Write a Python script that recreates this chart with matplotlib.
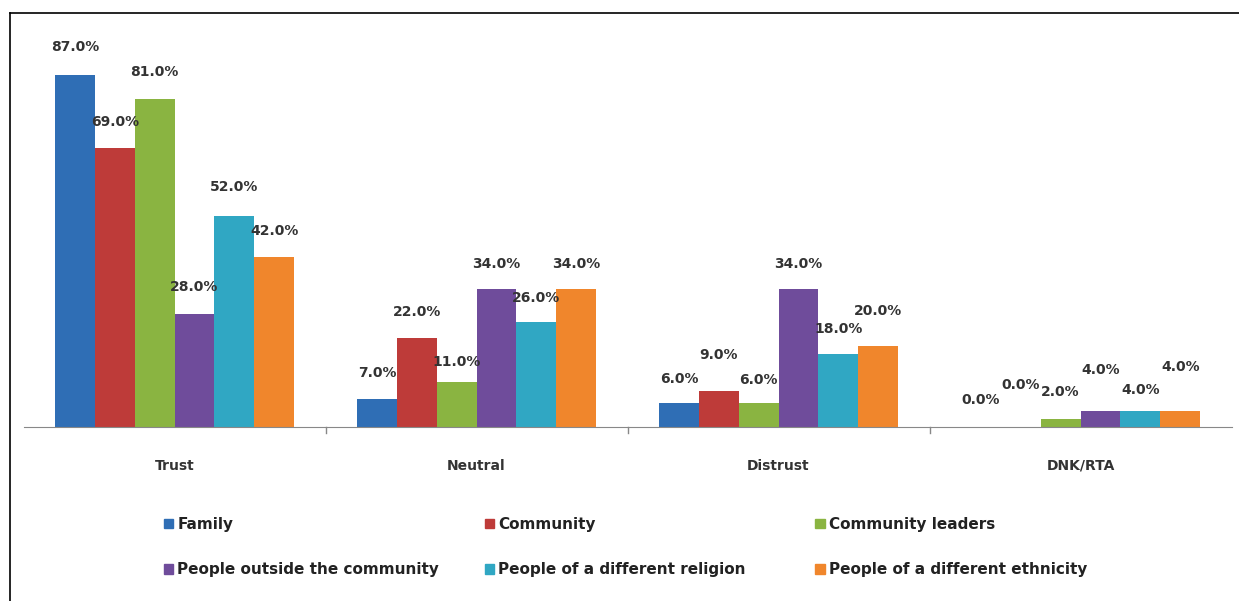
import matplotlib.pyplot as plt
import matplotlib.patches as mpatches
import numpy as np

categories = ['Trust', 'Neutral', 'Distrust', 'DNK/RTA']
series = ['Family', 'Community', 'Community leaders',
          'People outside the community', 'People of a different religion',
          'People of a different ethnicity']
values = [
    [87, 7, 6, 0],
    [69, 22, 9, 0],
    [81, 11, 6, 2],
    [28, 34, 34, 4],
    [52, 26, 18, 4],
    [42, 34, 20, 4],
]
colors = ['#2F6EB5', '#BE3B39', '#8AB441', '#6F4C9B', '#30A7C3', '#F0862C']

# label distance above bar top in pixels (Excel placed some higher to dodge)
label_gap = [
    [28, 26, 24, 27],
    [26, 26, 36, 42],
    [27, 20, 23, 27],
    [27, 25, 25, 41],
    [29, 24, 25, 21],
    [26, 25, 35, 44],
]

plt.rcParams['font.family'] = ['DejaVu Sans']

fig = plt.figure(figsize=(12.39, 6.01), dpi=100)
ax = fig.add_axes([0.019, 0.2895, 0.975, 0.674])

x = np.arange(len(categories))
w = 0.132
for i, (name, vals) in enumerate(zip(series, values)):
    pos = x + (i - 2.5) * w
    bars = ax.bar(pos, vals, w, color=colors[i], label=name, edgecolor='none')
    for j, (b, v) in enumerate(zip(bars, vals)):
        ax.annotate('%.1f%%' % v, (b.get_x() + b.get_width() / 2, v),
                    xytext=(0, label_gap[i][j] * 0.72), textcoords='offset points',
                    ha='center', va='center', fontsize=10, fontweight='bold',
                    color='#333333')

ax.set_xlim(-0.5, len(categories) - 0.5)
ax.set_ylim(0, 100)
ax.set_yticks([])
for s in ['top', 'right', 'left']:
    ax.spines[s].set_visible(False)
ax.spines['bottom'].set_color('#888888')
ax.set_xticks(x)
ax.set_xticklabels(categories, fontsize=10, fontweight='bold', color='#333333')
ax.tick_params(axis='x', length=0, pad=23)
for b in np.arange(0.5, len(categories) - 0.5, 1.0):
    ax.plot([b, b], [0, -1.5], color='#888888', lw=1, clip_on=False)

# legend in three columns, two rows each
handles = [mpatches.Patch(color=c) for c in colors]
col_x = [0.121, 0.380, 0.647]
for k in range(3):
    idx = [k, k + 3]
    fig.legend([handles[j] for j in idx], [series[j] for j in idx],
               loc='upper left', bbox_to_anchor=(col_x[k], 0.163),
               frameon=False, handlelength=0.6, handleheight=0.6,
               handletextpad=0.3, labelspacing=2.0,
               prop={'size': 11, 'weight': 'bold'}, labelcolor='#222222')

fig.add_artist(plt.Line2D([0.008, 1.0], [0.978, 0.978], color='black', lw=1.2,
                          transform=fig.transFigure))
fig.add_artist(plt.Line2D([0.008, 0.008], [0.0, 0.978], color='black', lw=1.2,
                          transform=fig.transFigure))

fig.savefig('out.png', dpi=100)
